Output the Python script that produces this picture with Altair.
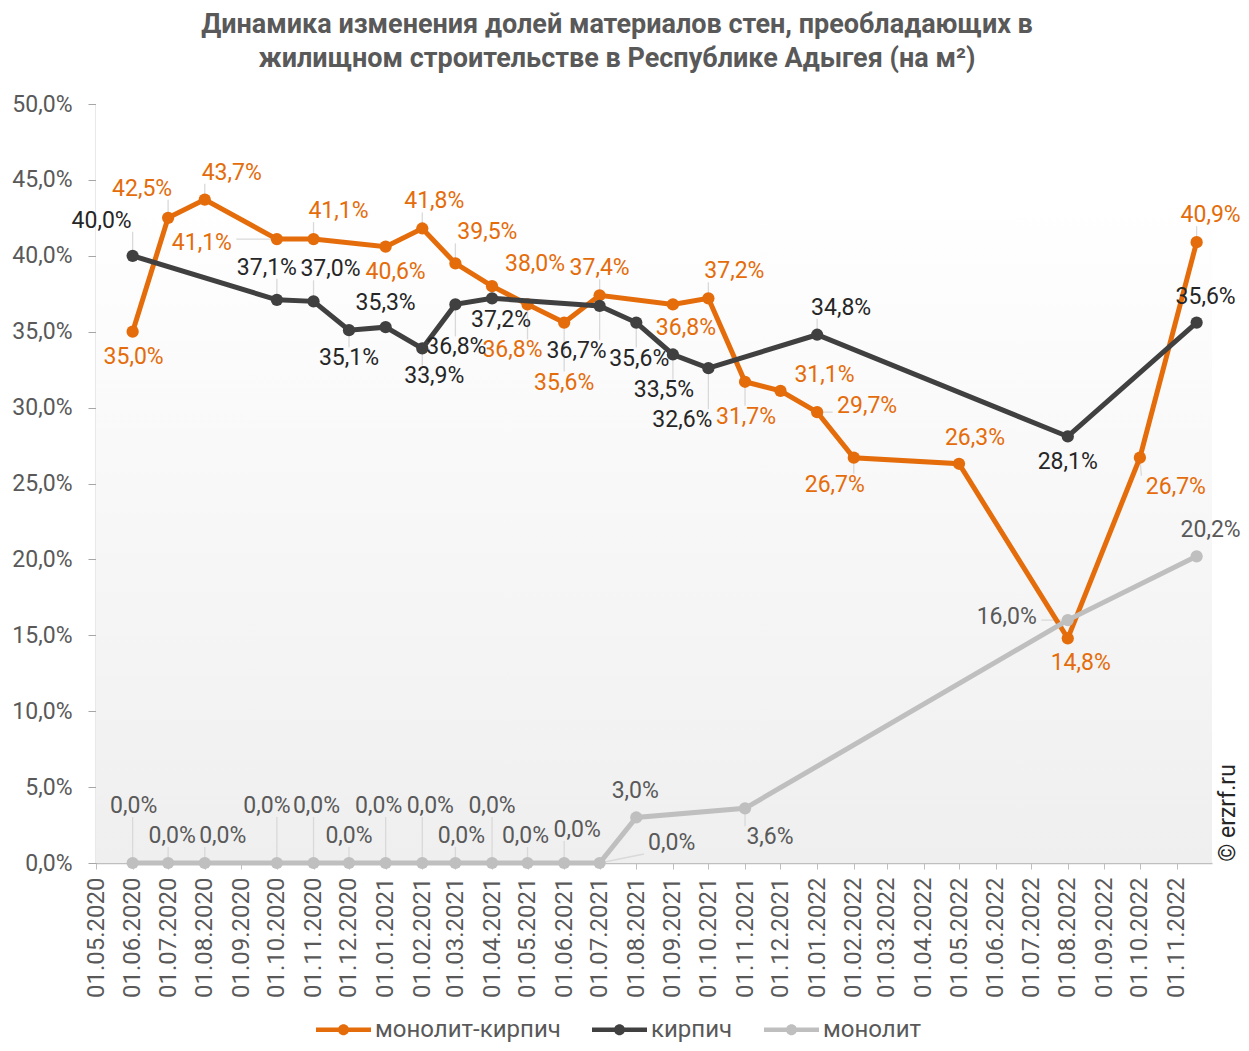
import altair as alt
import pandas as pd

TITLE = ["Динамика изменения долей материалов стен, преобладающих в",
         "жилищном строительстве  в Республике  Адыгея  (на м²)"]
SERIES = ["монолит-кирпич", "кирпич", "монолит"]
LINE_COLORS = ["#E46C0A", "#404040", "#BFBFBF"]
LABEL_COLORS = ["#E46C0A", "#262626", "#595959"]
WATERMARK = "© erzrf.ru"

# монолит-кирпич
mk_dates = ["2020-06-01", "2020-07-01", "2020-08-01", "2020-10-01", "2020-11-01",
            "2021-01-01", "2021-02-01", "2021-03-01", "2021-04-01", "2021-05-01",
            "2021-06-01", "2021-07-01", "2021-09-01", "2021-10-01", "2021-11-01",
            "2021-12-01", "2022-01-01", "2022-02-01", "2022-05-01", "2022-08-01",
            "2022-10-01", "2022-11-18"]
mk_values = [35.0, 42.5, 43.7, 41.1, 41.1, 40.6, 41.8, 39.5, 38.0, 36.8, 35.6, 37.4,
             36.8, 37.2, 31.7, 31.1, 29.7, 26.7, 26.3, 14.8, 26.7, 40.9]
# кирпич
k_dates = ["2020-06-01", "2020-10-01", "2020-11-01", "2020-12-01", "2021-01-01",
           "2021-02-01", "2021-03-01", "2021-04-01", "2021-07-01", "2021-08-01",
           "2021-09-01", "2021-10-01", "2022-01-01", "2022-08-01", "2022-11-18"]
k_values = [40.0, 37.1, 37.0, 35.1, 35.3, 33.9, 36.8, 37.2, 36.7, 35.6, 33.5, 32.6,
            34.8, 28.1, 35.6]
# монолит
m_dates = ["2020-06-01", "2020-07-01", "2020-08-01", "2020-10-01", "2020-11-01",
           "2020-12-01", "2021-01-01", "2021-02-01", "2021-03-01", "2021-04-01",
           "2021-05-01", "2021-06-01", "2021-07-01", "2021-08-01", "2021-11-01",
           "2022-08-01", "2022-11-18"]
m_values = [0.0, 0.0, 0.0, 0.0, 0.0, 0.0, 0.0, 0.0, 0.0, 0.0, 0.0, 0.0, 0.0,
            3.0, 3.6, 16.0, 20.2]

# label placement offsets (pixels from the point)
mk_label_dx = [1, -26, 27, -75, 25, 10, 12, 32, 43, -15, 0, 0, 13, 26, 1, 44, 50, -19, 16, 13, 36, 14]
mk_label_dy = [25, -29, -27, 4, -28, 25, -27, -31, -22, 46, 60, -27, 24, -27, 35, -16, -6, 27, -26, 25, 29, -27]
k_label_dx = [-31, -10, 17, 0, 0, 12, 1, 9, -23, 3, -9, -26, 24, 0, 9]
k_label_dy = [-35, -32, -32, 28, -24, 28, 43, 22, 45, 36, 36, 52, -27, 26, -26]
m_label_dx = [1, 4, 18, -10, 3, 0, -7, 8, 6, 0, -2, 13, 72, -1, 25, -61, 14]
m_label_dy = [-57, -27, -27, -57, -57, -27, -57, -57, -27, -57, -27, -33, -20, -26, 29, -3, -26]

W, H = 1116, 759
PAD = {"left": 88, "top": 96, "right": 29, "bottom": 180}
FONT = "Roboto"
FS = 23


def fmt(v):
    return f"{v:.1f}".replace(".", ",") + "%"


rows, offsets = [], []
for s, dates, vals, dxs, dys, lc in [
    (SERIES[0], mk_dates, mk_values, mk_label_dx, mk_label_dy, LABEL_COLORS[0]),
    (SERIES[1], k_dates, k_values, k_label_dx, k_label_dy, LABEL_COLORS[1]),
    (SERIES[2], m_dates, m_values, m_label_dx, m_label_dy, LABEL_COLORS[2]),
]:
    for d, v, dx, dy in zip(dates, vals, dxs, dys):
        rows.append(dict(series=s, date=d, value=v, label=fmt(v), idx=len(rows)))
        offsets.append((dx, dy, lc))
df = pd.DataFrame(rows)

month_ticks = []
y, m = 2020, 5
while (y, m) <= (2022, 11):
    month_ticks.append(alt.DateTime(year=y, month=m, date=1, utc=True))
    m += 1
    if m > 12:
        m, y = 1, y + 1

x_axis = alt.Axis(values=month_ticks,
                  labelExpr="utcFormat(datum.value, '%d.%m.%Y')",
                  labelAngle=-90, labelFontSize=24, labelColor="#595959",
                  labelPadding=8, tickSize=6, tickColor="#BFBFBF",
                  domainColor="#BFBFBF", domainWidth=1.5, grid=False,
                  labelOverlap=False, title=None)
x_enc = alt.X("date:T",
              scale=alt.Scale(type="utc", domain=[
                  alt.DateTime(year=2020, month=5, date=1, utc=True),
                  alt.DateTime(year=2022, month=12, date=1, utc=True)]),
              axis=x_axis, title=None)
y_axis = alt.Axis(values=list(range(0, 51, 5)),
                  labelExpr="replace(format(datum.value, '.1f'), '.', ',') + '%'",
                  labelFontSize=23, labelColor="#595959", labelPadding=16,
                  tickSize=8, tickColor="#A6A6A6", domainColor="#A6A6A6",
                  domainWidth=1.5, grid=False, title=None)
y_enc = alt.Y("value:Q", scale=alt.Scale(domain=[0, 50]), axis=y_axis, title=None)

LEG_PATH = ("M-1,-0.08L1,-0.08L1,0.08L-1,0.08Z "
            "M0.2,0A0.2,0.2,0,1,1,-0.2,0A0.2,0.2,0,1,1,0.2,0Z")
legend = alt.Legend(orient="none", legendX=220, legendY=898, direction="horizontal",
                    title=None, symbolType=LEG_PATH, symbolSize=3025,
                    symbolStrokeWidth=0, symbolOpacity=1, labelFontSize=24,
                    labelColor="#595959", columnPadding=31, labelOffset=4,
                    labelLimit=0)
color_scale = alt.Scale(domain=SERIES, range=LINE_COLORS)

one = pd.DataFrame({"t": [WATERMARK], "t1": [TITLE[0]], "t2": [TITLE[1]]})
bg = alt.Chart(one).mark_rect(
    color=alt.LinearGradient(gradient="linear", x1=0, x2=0, y1=0, y2=1,
                             stops=[alt.GradientStop(color="#FFFFFF", offset=0),
                                    alt.GradientStop(color="#FFFFFF", offset=0.12),
                                    alt.GradientStop(color="#EFEFEF", offset=1)])
).encode(x=alt.value(0), x2=alt.value(W), y=alt.value(0), y2=alt.value(H))

layers = [bg]

# leader lines
for i, (dx, dy, lc) in enumerate(offsets):
    txt = rows[i]["label"]
    hw = 6.8 * len(txt) + 0.5
    hh = 11
    ex = min(max(0, dx - hw), dx + hw)
    ey = min(max(0, dy - hh), dy + hh)
    if (ex ** 2 + ey ** 2) ** 0.5 > 15:
        layers.append(
            alt.Chart().mark_rule(color="#D9D9D9", strokeWidth=1.3,
                                  x2Offset=ex, y2Offset=ey)
            .encode(x=x_enc, x2="date:T", y=y_enc, y2="value:Q")
            .transform_filter(alt.datum.idx == i))

for s, c in zip(SERIES, LINE_COLORS):
    layers.append(alt.Chart().mark_line(color=c, strokeWidth=5)
                  .encode(x=x_enc, y=y_enc)
                  .transform_filter(alt.datum.series == s))
    layers.append(alt.Chart().mark_circle(size=150, opacity=1)
                  .encode(x=x_enc, y=y_enc,
                          color=alt.Color("series:N", scale=color_scale, legend=legend))
                  .transform_filter(alt.datum.series == s))

for i, (dx, dy, lc) in enumerate(offsets):
    layers.append(alt.Chart().mark_text(dx=dx, dy=dy, fontSize=FS, color=lc,
                                        align="center", baseline="middle")
                  .encode(x=x_enc, y=y_enc, text="label:N")
                  .transform_filter(alt.datum.idx == i))

wm = alt.Chart(one).mark_text(angle=270, fontSize=23, color="#262626",
                              align="center", baseline="middle").encode(
    x=alt.value(1132), y=alt.value(709), text="t:N")
layers.append(wm)

# chart title, two centred lines above the plot
for field, yy in [("t1", -71), ("t2", -37)]:
    layers.append(alt.Chart(one).mark_text(fontSize=27, fontWeight="bold",
                                           color="#595959", align="center",
                                           baseline="alphabetic")
                  .encode(x=alt.value(521), y=alt.value(yy), text=f"{field}:N"))

chart = alt.layer(*layers, data=df).properties(
    width=W, height=H,
    autosize=alt.AutoSizeParams(type="none"),
    padding=PAD,
).configure(font=FONT).configure_view(stroke=None)

chart.save("out.html", embed_options={"renderer": "svg", "actions": False})
